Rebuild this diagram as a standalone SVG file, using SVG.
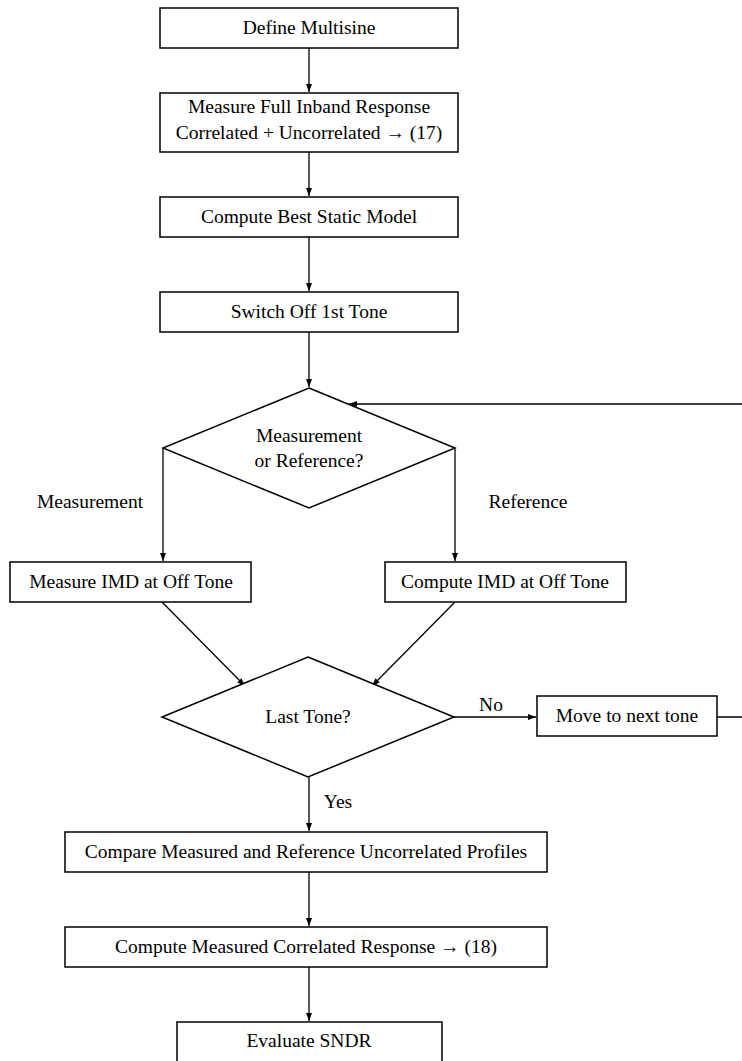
<svg xmlns="http://www.w3.org/2000/svg" width="742" height="1061" viewBox="0 0 742 1061">
<defs>
<marker id="ah" viewBox="0 0 8 6" refX="8" refY="3" markerWidth="8" markerHeight="6" markerUnits="userSpaceOnUse" orient="auto">
<path d="M0,0 L8,3 L0,6 Z" fill="#000"/>
</marker>
</defs>
<style>
.n{fill:#fff;stroke:#000;stroke-width:1.5}
.t{font-family:"Liberation Serif","Times New Roman",serif;font-size:19.5px;fill:#000;text-anchor:middle}
.c{fill:none;stroke:#000;stroke-width:1.3}
</style>
<rect width="742" height="1061" fill="#fff"/>
<g id="connectors">
<line class="c" x1="309" y1="48" x2="309" y2="92" marker-end="url(#ah)"/>
<line class="c" x1="309" y1="152" x2="309" y2="196" marker-end="url(#ah)"/>
<line class="c" x1="309" y1="237" x2="309" y2="291" marker-end="url(#ah)"/>
<line class="c" x1="309" y1="332" x2="309" y2="387" marker-end="url(#ah)"/>
<line class="c" x1="163" y1="448" x2="163" y2="561" marker-end="url(#ah)"/>
<line class="c" x1="455" y1="448" x2="455" y2="561" marker-end="url(#ah)"/>
<line class="c" x1="162" y1="602" x2="245" y2="686" marker-end="url(#ah)"/>
<line class="c" x1="455" y1="602" x2="372" y2="686" marker-end="url(#ah)"/>
<line class="c" x1="454" y1="717" x2="536" y2="717" marker-end="url(#ah)"/>
<polyline class="c" points="717,717 745,717 745,404 349,404" marker-end="url(#ah)"/>
<line class="c" x1="309" y1="777" x2="309" y2="831" marker-end="url(#ah)"/>
<line class="c" x1="309" y1="872" x2="309" y2="926" marker-end="url(#ah)"/>
<line class="c" x1="309" y1="967" x2="309" y2="1021" marker-end="url(#ah)"/>
<text class="t" x="90" y="508">Measurement</text>
<text class="t" x="528" y="508">Reference</text>
<text class="t" x="491" y="711">No</text>
<text class="t" x="338" y="808">Yes</text>
</g>
<g id="n1"><rect class="n" x="160" y="8" width="298" height="40"/><text class="t" x="309" y="34">Define Multisine</text></g>
<g id="n2"><rect class="n" x="160" y="93" width="298" height="59"/><text class="t" x="309" y="113">Measure Full Inband Response</text><text class="t" x="309" y="139">Correlated + Uncorrelated → (17)</text></g>
<g id="n3"><rect class="n" x="160" y="197" width="298" height="40"/><text class="t" x="309" y="223">Compute Best Static Model</text></g>
<g id="n4"><rect class="n" x="160" y="292" width="298" height="40"/><text class="t" x="309" y="318">Switch Off 1st Tone</text></g>
<g id="d1"><polygon class="n" points="309,388 455,448 309,508 163,448"/><text class="t" x="309" y="442">Measurement</text><text class="t" x="309" y="467">or Reference?</text></g>
<g id="n5"><rect class="n" x="10" y="562" width="241" height="40"/><text class="t" x="131" y="588">Measure IMD at Off Tone</text></g>
<g id="n6"><rect class="n" x="385" y="562" width="241" height="40"/><text class="t" x="505" y="588">Compute IMD at Off Tone</text></g>
<g id="d2"><polygon class="n" points="308,657 454,717 308,777 162,717"/><text class="t" x="308" y="723">Last Tone?</text></g>
<g id="n7"><rect class="n" x="537" y="696" width="180" height="40"/><text class="t" x="627" y="722">Move to next tone</text></g>
<g id="n8"><rect class="n" x="65" y="832" width="482" height="40"/><text class="t" x="306" y="858">Compare Measured and Reference Uncorrelated Profiles</text></g>
<g id="n9"><rect class="n" x="65" y="927" width="482" height="40"/><text class="t" x="306" y="953">Compute Measured Correlated Response → (18)</text></g>
<g id="n10"><rect class="n" x="177" y="1022" width="265" height="40"/><text class="t" x="309" y="1047">Evaluate SNDR</text></g>
</svg>
